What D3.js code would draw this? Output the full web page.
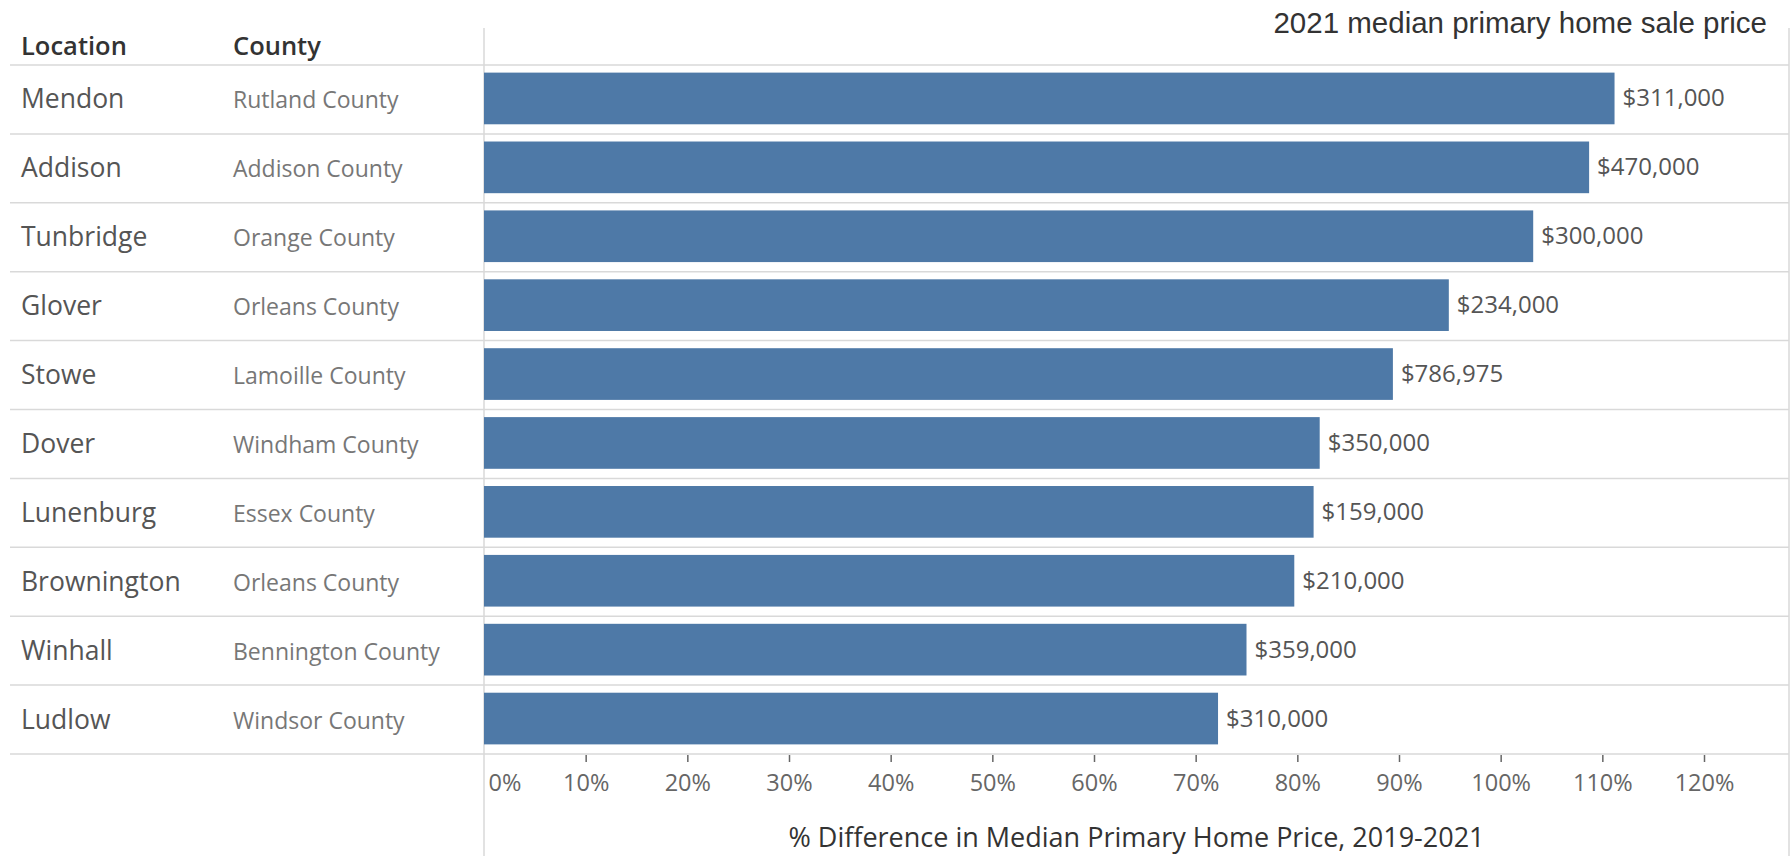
<!DOCTYPE html>
<html>
<head>
<meta charset="utf-8">
<script src="https://cdn.jsdelivr.net/npm/d3@7"></script>
<style>
  html, body { margin: 0; padding: 0; background: #fff; }
  svg { display: block; }
  text { font-family: "Open Sans", sans-serif; }
</style>
</head>
<body>
<div id="root"></div>
<script>
// values
const locations = ["Mendon", "Addison", "Tunbridge", "Glover", "Stowe", "Dover", "Lunenburg", "Brownington", "Winhall", "Ludlow"];
const counties = ["Rutland County", "Addison County", "Orange County", "Orleans County", "Lamoille County",
    "Windham County", "Essex County", "Orleans County", "Bennington County", "Windsor County"];
const pctDiff = [1.112, 1.087, 1.032, 0.949, 0.894, 0.822, 0.816, 0.797, 0.750, 0.722];
const salePrice = [311000, 470000, 300000, 234000, 786975, 350000, 159000, 210000, 359000, 310000];
const tickValues = [0, 0.1, 0.2, 0.3, 0.4, 0.5, 0.6, 0.7, 0.8, 0.9, 1.0, 1.1, 1.2];

const width = 1791, height = 856;
const gridColor = "#d9d9d9";
const barColor = "#4e79a7";

const svg = d3.select("#root")
    .append("svg")
    .attr("width", width)
    .attr("height", height);

const rows = locations.map((loc, i) => ({
    location: loc,
    county: counties[i],
    pct: pctDiff[i],
    price: salePrice[i]
}));

const x = d3.scaleLinear()
    .domain([0, 1.2])
    .range([484, 1704]);

const y = d3.scaleBand()
    .domain(locations)
    .range([65, 754])
    .paddingInner(0.25)
    .paddingOuter(0.125);

const rowStep = y.step();
const rowTop = (d) => 65 + locations.indexOf(d) * rowStep;

// horizontal row separators
const lineYs = d3.range(locations.length + 1).map((i) => 65 + i * rowStep);
svg.append("g")
    .selectAll("line")
    .data(lineYs)
    .enter()
    .append("line")
        .attr("x1", 10)
        .attr("x2", 1789)
        .attr("y1", (d) => d)
        .attr("y2", (d) => d)
        .attr("stroke", gridColor)
        .attr("stroke-width", 1.5);

// vertical pane dividers
svg.append("line")
    .attr("x1", 484).attr("x2", 484)
    .attr("y1", 28).attr("y2", height)
    .attr("stroke", gridColor)
    .attr("stroke-width", 1.5);

svg.append("line")
    .attr("x1", 1789).attr("x2", 1789)
    .attr("y1", 28).attr("y2", height)
    .attr("stroke", gridColor)
    .attr("stroke-width", 1.5);

// title on the right
svg.append("text")
    .attr("x", 1767)
    .attr("y", 33)
    .attr("text-anchor", "end")
    .style("font-family", "'Liberation Sans', Arial, sans-serif")
    .style("font-size", "29.5px")
    .attr("fill", "#333")
    .text("2021 median primary home sale price");

// column headers
svg.append("text")
    .attr("x", 21)
    .attr("y", 55)
    .style("font-size", "25.5px")
    .style("font-weight", 600)
    .attr("fill", "#333")
    .text("Location");

svg.append("text")
    .attr("x", 233)
    .attr("y", 55)
    .style("font-size", "25.5px")
    .style("font-weight", 600)
    .attr("fill", "#333")
    .text("County");

// row labels
const labels = svg.append("g");
labels.selectAll(".loc")
    .data(rows)
    .enter()
    .append("text")
        .attr("class", "loc")
        .attr("x", 21)
        .attr("y", (d) => rowTop(d.location) + rowStep / 2 + 9)
        .style("font-size", "26.5px")
        .attr("fill", "#555")
        .text((d) => d.location);

labels.selectAll(".county")
    .data(rows)
    .enter()
    .append("text")
        .attr("class", "county")
        .attr("x", 233)
        .attr("y", (d) => rowTop(d.location) + rowStep / 2 + 9)
        .style("font-size", "23px")
        .attr("fill", "#777")
        .text((d) => d.county);

// bars
svg.append("g")
    .selectAll("rect")
    .data(rows)
    .enter()
    .append("rect")
        .attr("x", x(0))
        .attr("y", (d) => y(d.location) - 1)
        .attr("width", (d) => x(d.pct) - x(0))
        .attr("height", y.bandwidth())
        .attr("fill", barColor);

// value labels
const fmtPrice = d3.format("$,");
svg.append("g")
    .selectAll("text")
    .data(rows)
    .enter()
    .append("text")
        .attr("x", (d) => x(d.pct) + 8)
        .attr("y", (d) => y(d.location) - 1 + y.bandwidth() / 2 + 8)
        .style("font-size", "24px")
        .attr("fill", "#555")
        .text((d) => fmtPrice(d.price));

// x axis
const xAxis = d3.axisBottom(x)
    .tickValues(tickValues)
    .tickFormat(d3.format(".0%"))
    .tickSize(7)
    .tickSizeOuter(0);

const axisG = svg.append("g")
    .attr("transform", "translate(0, 755)")
    .call(xAxis);

axisG.select(".domain").remove();
axisG.selectAll(".tick line")
    .attr("stroke", "#666")
    .attr("stroke-width", 1.5);
axisG.selectAll(".tick")
    .filter((d) => d === 0)
    .select("line")
    .remove();
axisG.selectAll(".tick text")
    .attr("y", 0)
    .attr("dy", null)
    .attr("transform", "translate(0, 35.5)")
    .style("font-family", "'Open Sans', sans-serif")
    .style("font-size", "23.5px")
    .attr("fill", "#666");
axisG.selectAll(".tick")
    .filter((d) => d === 0)
    .select("text")
    .attr("text-anchor", "start")
    .attr("x", 4);

// axis title
svg.append("text")
    .attr("x", (484 + 1789) / 2)
    .attr("y", 847)
    .attr("text-anchor", "middle")
    .style("font-size", "27px")
    .attr("fill", "#333")
    .text("% Difference in Median Primary Home Price, 2019-2021");
</script>
</body>
</html>
